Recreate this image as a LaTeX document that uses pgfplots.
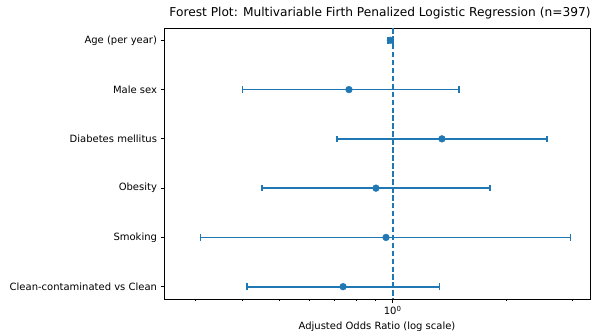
\documentclass[border=0pt]{standalone}
\usepackage{pgfplots}
\pgfplotsset{compat=1.18}
\usepackage{fontspec}
\setmainfont{DejaVu Sans}
\usetikzlibrary{calc}
\definecolor{c0}{HTML}{1F77B4}
\begin{document}
\begin{tikzpicture}
\begin{axis}[name=ax, scale only axis, width=426pt, height=271pt,
  xmode=log, log basis x=10, xmin=0.248, xmax=3.33, ymin=-0.25, ymax=5.25, y dir=reverse,
  xtick={1}, xticklabels={10\textsuperscript{0}},
  minor xtick={0.3,0.4,0.5,0.6,0.7,0.8,0.9,2,3},
  ytick={0,1,2,3,4,5},
  yticklabels={Age (per year),Male sex,Diabetes mellitus,Obesity,Smoking,Clean-contaminated vs Clean},
  tick align=outside, xtick pos=bottom, ytick pos=left,
  major tick length=3.5pt, minor tick length=2pt,
  every tick/.style={black, line width=0.8pt},
  axis line style={line width=0.8pt},
  tick label style={font=\fontsize{10}{12}\selectfont},
  title={Forest Plot: Multivariable Firth Penalized Logistic Regression (n=397)},
  title style={font=\fontsize{12.2}{14}\selectfont, at={(0.5,1)}, anchor=base, yshift=6pt, xshift=3pt},
  xlabel={Adjusted Odds Ratio (log scale)},
  label style={font=\fontsize{10}{12}\selectfont},
  clip=false,
]
\addplot[c0, line width=1.8pt, mark=|, mark size=3.2pt, mark options={solid, line width=1.6pt}] coordinates {(0.972,0) (1.003,0)};
\addplot[c0, line width=1.8pt, mark=|, mark size=3.2pt, mark options={solid, line width=1.6pt}] coordinates {(0.400,1) (1.50,1)};
\addplot[c0, line width=1.8pt, mark=|, mark size=3.2pt, mark options={solid, line width=1.6pt}] coordinates {(0.711,2) (2.56,2)};
\addplot[c0, line width=1.8pt, mark=|, mark size=3.2pt, mark options={solid, line width=1.6pt}] coordinates {(0.451,3) (1.81,3)};
\addplot[c0, line width=1.8pt, mark=|, mark size=3.2pt, mark options={solid, line width=1.6pt}] coordinates {(0.310,4) (2.96,4)};
\addplot[c0, line width=1.8pt, mark=|, mark size=3.2pt, mark options={solid, line width=1.6pt}] coordinates {(0.411,5) (1.33,5)};
\addplot[c0, only marks, mark=*, mark size=3.4pt] coordinates {
(0.986,0) (0.766,1) (1.35,2) (0.903,3) (0.960,4) (0.739,5)};
\addplot[c0, line width=1.8pt, dash pattern=on 5.55pt off 2.4pt] coordinates {(1,-0.25) (1,5.25)};
\end{axis}
\pgfresetboundingbox
\path ($(ax.south west)+(-164pt,-32pt)$) rectangle ($(ax.north east)+(3pt,28pt)$);
\end{tikzpicture}
\end{document}
